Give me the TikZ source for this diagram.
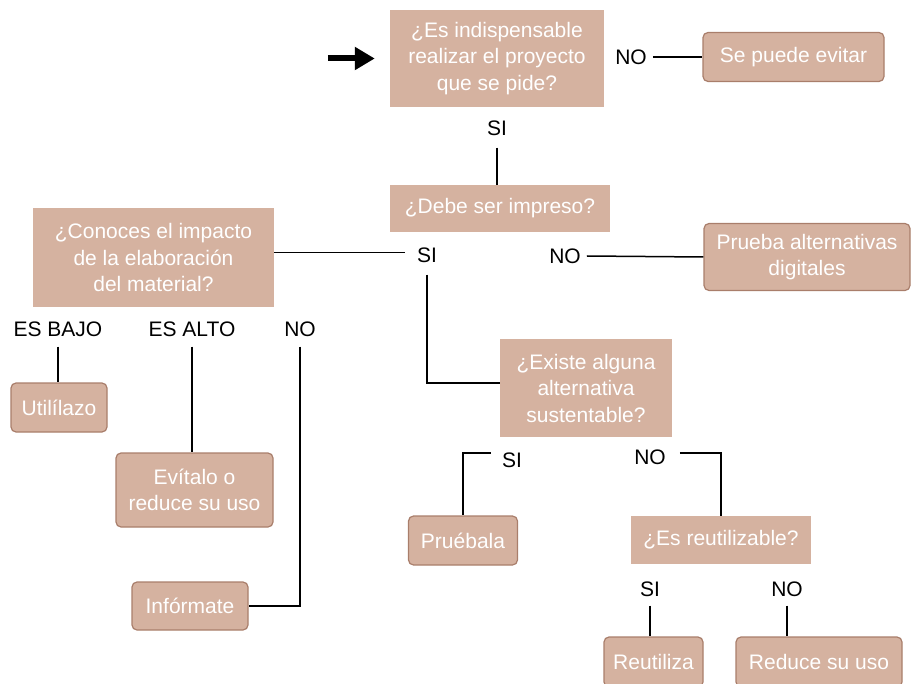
\documentclass[tikz,border=0pt]{standalone}
\usepackage{fontspec}
\setmainfont{Liberation Sans}
\usetikzlibrary{arrows.meta}
\definecolor{boxfill}{HTML}{D5B2A0}
\definecolor{boxedge}{HTML}{A97E6B}
\begin{document}
\begin{tikzpicture}[x=1pt,y=-1pt,
 qbox/.style={fill=boxfill, draw=none, text=white, align=center, inner sep=0pt, font=\fontsize{21}{26.5}\selectfont},
 rbox/.style={qbox, draw=boxedge, line width=1.2pt, rounded corners=5pt},
 lbl/.style={inner sep=0pt, font=\fontsize{21}{26}\selectfont, text=black},
 conn/.style={draw=black, line width=1.5pt}]
\useasboundingbox (0,0) rectangle (912,684);

% question boxes
\node[qbox, minimum width=214pt, minimum height=97pt] (q1) at (497,58.5) {¿Es indispensable\\realizar el proyecto\\que se pide?};
\node[qbox, minimum width=220pt, minimum height=47pt] (q2) at (500,208.5) {¿Debe ser impreso?};
\node[qbox, minimum width=241pt, minimum height=99pt] (q3) at (153.5,257.5) {¿Conoces el impacto\\de la elaboración\\del material?};
\node[qbox, minimum width=172pt, minimum height=98pt] (q4) at (586,388) {¿Existe alguna\\alternativa\\sustentable?};
\node[qbox, minimum width=180pt, minimum height=48pt] (q5) at (721,540) {¿Es reutilizable?};

% answer boxes
\node[rbox, minimum width=181pt, minimum height=49pt] (evitar) at (793.5,57) {Se puede evitar};
\node[rbox, minimum width=206pt, minimum height=67pt] (alt) at (807,257) {Prueba alternativas\\digitales};
\node[rbox, minimum width=109pt, minimum height=49pt] (pruebala) at (463,540.5) {Pruébala};
\node[rbox, minimum width=99pt, minimum height=50pt] (reutiliza) at (653.5,662) {Reutiliza};
\node[rbox, minimum width=166pt, minimum height=50pt] (reduce) at (819,662) {Reduce su uso};
\node[rbox, minimum width=96pt, minimum height=49pt] (util) at (59,407.5) {Utilílazo};
\node[rbox, minimum width=157pt, minimum height=74pt] (evit) at (194.5,490) {Evítalo o\\reduce su uso};
\node[rbox, minimum width=116pt, minimum height=48pt] (inform) at (190,606) {Infórmate};

% labels
\node[lbl] (no1) at (631,57) {NO};
\node[lbl] (si1) at (497,128) {SI};
\node[lbl] (si2) at (427,255) {SI};
\node[lbl] (no2) at (565,256) {NO};
\node[lbl] (esbajo) at (58,329) {ES BAJO};
\node[lbl] (esalto) at (192,329) {ES ALTO};
\node[lbl] (no3) at (300,329) {NO};
\node[lbl] (si3) at (512,460) {SI};
\node[lbl] (no4) at (650,457) {NO};
\node[lbl] (si4) at (650,589) {SI};
\node[lbl] (no5) at (787,589) {NO};

% start arrow
\draw[line width=6pt, -{Triangle[length=20pt,width=22pt]}] ([xshift=-62pt]q1.west) -- ([xshift=-15pt]q1.west);

% connectors
\draw[conn] ([xshift=6pt]no1.east) -- (evitar.west);
\draw[conn] ([yshift=-12pt]si1.south) -- (si1 |- q2.north);
\draw[conn] ([yshift=5pt]q3.east) -- ([yshift=5pt]q3.east -| si2.west) [shorten >=12pt];
\draw[conn] ([yshift=-12pt]si2.south) |- ([yshift=5pt]q4.west);
\draw[conn] ([xshift=6pt]no2.east) -- (alt.west);
\draw[conn] ([xshift=-11pt,yshift=7pt]si3.west) -| (pruebala.north);
\draw[conn] ([xshift=14pt,yshift=4pt]no4.east) -| (q5.north);
\draw[conn] ([yshift=-9pt]si4.south) -- (si4 |- reutiliza.north);
\draw[conn] ([yshift=-9pt]no5.south) -- (no5 |- reduce.north);
\draw[conn] ([yshift=-10pt]esbajo.south) -- (esbajo |- util.north);
\draw[conn] ([yshift=-10pt]esalto.south) -- (esalto |- evit.north);
\draw[conn] ([yshift=-10pt]no3.south) |- (inform.east);
\end{tikzpicture}
\end{document}
